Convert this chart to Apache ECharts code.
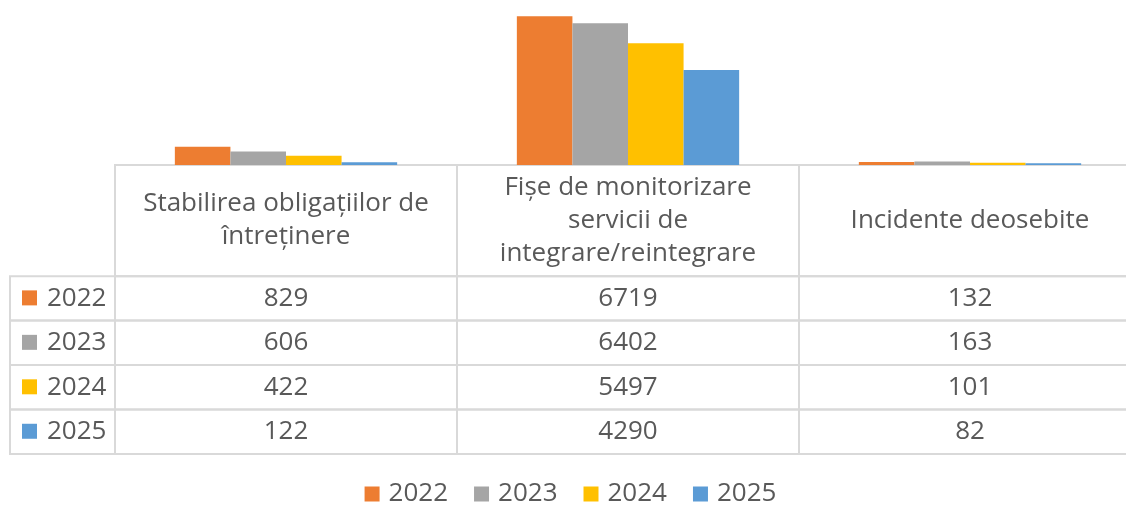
<!DOCTYPE html>
<html>
<head>
<meta charset="utf-8">
<script src="https://cdn.jsdelivr.net/npm/echarts@6/dist/echarts.min.js"></script>
<style>
html, body { margin: 0; padding: 0; overflow: hidden; background: #fff; }
#chart { width: 1141px; height: 505px; }
</style>
</head>
<body>
<div id="chart"></div>
<script>
var categories = ['Stabilirea obligațiilor de\nîntreținere', 'Fișe de monitorizare\nservicii de\nintegrare/reintegrare', 'Incidente deosebite'];
var years = ['2022', '2023', '2024', '2025'];
var values2022 = [829, 6719, 132];
var values2023 = [606, 6402, 163];
var values2024 = [422, 5497, 101];
var values2025 = [122, 4290, 82];
var colors = ['#ED7D31', '#A5A5A5', '#FFC000', '#5B9BD5'];
var seriesValues = [values2022, values2023, values2024, values2025];

var chart = echarts.init(document.getElementById('chart'));
var textColor = '#595959';
var lineColor = '#d9d9d9';
var font = 'Open Sans';
var fontSize = 26;

// table cells: x in column units (label column is negative), y in row units
var labelCol = -105 / 342;
var headerRows = 2.5;
var cells = [];
categories.forEach(function (c, i) {
    cells.push({x0: i, x1: i + 1, y0: 0, y1: headerRows, text: c});
});
years.forEach(function (y, r) {
    var top = headerRows + r;
    cells.push({x0: labelCol, x1: 0, y0: top, y1: top + 1, text: y, color: colors[r]});
    seriesValues[r].forEach(function (v, i) {
        cells.push({x0: i, x1: i + 1, y0: top, y1: top + 1, text: String(v)});
    });
});

function renderCell(params, api) {
    var cell = cells[params.dataIndex];
    var p0 = api.coord([cell.x0, cell.y0]);
    var p1 = api.coord([cell.x1, cell.y1]);
    var x = p0[0], y = p0[1], w = p1[0] - p0[0], h = p1[1] - p0[1];
    var children = [{
        type: 'rect',
        shape: {x: x, y: y, width: w, height: h},
        style: {fill: 'none', stroke: lineColor, lineWidth: 2}
    }];
    if (cell.color) {
        children.push({
            type: 'rect',
            shape: {x: x + 12, y: y + h / 2 - 8, width: 15, height: 15},
            style: {fill: cell.color}
        });
        children.push({
            type: 'text',
            style: {text: cell.text, x: x + 37, y: y + h / 2, align: 'left', verticalAlign: 'middle',
                fontSize: fontSize, fontFamily: font, fill: textColor}
        });
    } else {
        children.push({
            type: 'text',
            style: {text: cell.text, x: x + w / 2, y: y + h / 2, align: 'center', verticalAlign: 'middle',
                fontSize: fontSize, fontFamily: font, lineHeight: 33, fill: textColor}
        });
    }
    return {type: 'group', children: children};
}

var barSeries = years.map(function (y, i) {
    return {
        name: y,
        type: 'bar',
        xAxisIndex: 0,
        yAxisIndex: 0,
        data: seriesValues[i],
        barGap: '0%',
        barCategoryGap: '35%',
        itemStyle: {color: colors[i]},
        z: 3
    };
});

chart.setOption({
    animation: false,
    textStyle: {fontFamily: font},
    grid: [
        {left: 115, top: 10, width: 1026, height: 155},
        {left: 10, top: 165, width: 1131, height: 289}
    ],
    xAxis: [
        {type: 'category', gridIndex: 0, data: categories, show: false},
        {type: 'value', gridIndex: 1, min: labelCol, max: 3, show: false}
    ],
    yAxis: [
        {type: 'value', gridIndex: 0, min: 0, max: 7000, show: false},
        {type: 'value', gridIndex: 1, min: 0, max: headerRows + years.length, inverse: true, show: false}
    ],
    legend: {
        data: years,
        top: 476,
        icon: 'rect',
        itemWidth: 15,
        itemHeight: 15,
        itemGap: 26,
        textStyle: {fontSize: fontSize, color: textColor, fontFamily: font, padding: [0, 0, 0, 4]}
    },
    series: barSeries.concat([{
        type: 'custom',
        xAxisIndex: 1,
        yAxisIndex: 1,
        clip: false,
        silent: true,
        renderItem: renderCell,
        encode: {x: [0, 2], y: [1, 3]},
        data: cells.map(function (c) { return [c.x0, c.y0, c.x1, c.y1]; }),
        z: 1
    }])
});
</script>
</body>
</html>
